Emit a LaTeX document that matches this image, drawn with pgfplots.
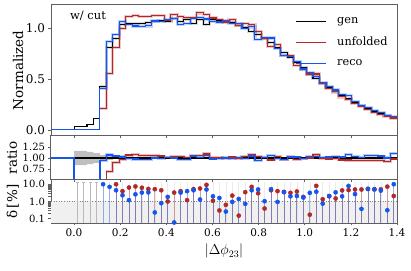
\documentclass[border=0pt]{standalone}
\usepackage{pgfplots}
\pgfplotsset{compat=1.18}
\usepackage{pgfplotstable}
\usepackage{fontspec}
\setmainfont{DejaVu Serif}
\definecolor{myred}{RGB}{178,40,40}
\definecolor{myblue}{RGB}{20,85,235}
\definecolor{axgray}{RGB}{95,95,95}

\pgfplotstableread{
x gen unf reco
-0.100 0 0 0
0.000 0.030 0 0
0.028 0.030 0 0
0.056 0.050 0 0
0.084 0.115 0 0
0.112 0.430 0.211 0.409
0.140 0.810 0.559 0.867
0.168 0.900 0.810 0.941
0.196 1.040 0.998 1.064
0.224 1.050 1.118 1.037
0.252 1.050 1.129 1.023
0.280 1.050 1.116 1.015
0.308 1.060 1.117 1.024
0.336 1.070 1.126 1.072
0.364 1.080 1.129 1.071
0.392 1.070 1.081 1.090
0.420 1.100 1.136 1.101
0.448 1.070 1.113 1.035
0.476 1.090 1.103 1.046
0.504 1.050 1.106 1.097
0.532 1.090 1.152 1.104
0.560 1.040 1.137 1.092
0.588 1.090 1.102 1.068
0.616 1.080 1.083 1.063
0.644 1.070 1.063 1.073
0.672 1.060 1.083 1.050
0.700 1.030 1.028 1.044
0.728 1.010 1.045 1.003
0.756 0.970 1.039 1.014
0.784 0.940 0.968 0.893
0.812 0.900 0.904 0.909
0.840 0.860 0.821 0.905
0.868 0.810 0.842 0.802
0.896 0.760 0.733 0.733
0.924 0.710 0.733 0.724
0.952 0.660 0.635 0.674
0.980 0.610 0.599 0.600
1.008 0.550 0.551 0.568
1.036 0.510 0.551 0.529
1.064 0.460 0.454 0.463
1.092 0.420 0.412 0.429
1.120 0.380 0.374 0.393
1.148 0.340 0.325 0.347
1.176 0.310 0.296 0.335
1.204 0.270 0.257 0.277
1.232 0.240 0.228 0.241
1.260 0.210 0.199 0.221
1.288 0.180 0.171 0.189
1.316 0.160 0.152 0.167
1.344 0.140 0.130 0.140
1.372 0.120 0.117 0.132
1.400 0.120 0.117 0.132
}\histtab

\pgfplotstableread{
x rg ru rb
-0.100 1 1 1
0.000 1 0 0
0.028 1 0 0
0.056 1 0 0
0.084 1 0 0
0.112 1 0.49 0.95
0.140 1 0.69 1.07
0.168 1 0.90 1.045
0.196 1 0.96 1.023
0.224 1 1.065 0.988
0.252 1 1.075 0.974
0.280 1 1.063 0.967
0.308 1 1.054 0.966
0.336 1 1.052 1.002
0.364 1 1.045 0.992
0.392 1 1.010 1.019
0.420 1 1.033 1.001
0.448 1 1.040 0.967
0.476 1 1.012 0.960
0.504 1 1.053 1.045
0.532 1 1.057 1.013
0.560 1 1.093 1.050
0.588 1 1.011 0.980
0.616 1 1.003 0.984
0.644 1 0.994 1.003
0.672 1 1.022 0.991
0.700 1 0.999 1.014
0.728 1 1.035 0.993
0.756 1 1.071 1.045
0.784 1 1.030 0.950
0.812 1 1.004 1.010
0.840 1 0.955 1.052
0.868 1 1.040 0.991
0.896 1 0.964 0.965
0.924 1 1.032 1.020
0.952 1 0.962 1.021
0.980 1 0.982 0.983
1.008 1 1.002 1.032
1.036 1 1.081 1.037
1.064 1 0.986 1.008
1.092 1 0.980 1.021
1.120 1 0.985 1.034
1.148 1 0.956 1.020
1.176 1 0.954 1.080
1.204 1 0.950 1.027
1.232 1 0.950 1.004
1.260 1 0.946 1.054
1.288 1 0.950 1.052
1.316 1 0.949 1.043
1.344 1 0.927 1.003
1.372 1 0.979 1.101
1.400 1 0.979 1.101
}\ratiotab

\pgfplotstableread{
x dr db
0.126 nan 10.1
0.154 nan 7.1
0.182 10.1 4.5
0.210 4.0 2.3
0.238 6.5 1.2
0.266 7.5 2.6
0.294 6.3 3.3
0.322 5.4 3.4
0.350 5.2 0.23
0.378 4.5 0.8
0.406 1.0 1.85
0.434 3.3 0.06
0.462 4.0 3.3
0.490 1.2 4.0
0.518 5.3 4.5
0.546 5.7 1.3
0.574 9.3 5.0
0.602 1.1 2.0
0.630 0.30 1.6
0.658 0.64 0.26
0.686 2.2 0.95
0.714 0.15 1.4
0.742 3.5 0.73
0.770 7.1 4.5
0.798 3.0 5.0
0.826 0.39 1.04
0.854 4.5 5.2
0.882 4.0 0.95
0.910 3.6 3.5
0.938 3.2 2.0
0.966 3.8 2.1
0.994 1.85 1.7
1.022 0.17 3.2
1.050 8.1 3.7
1.078 1.36 0.75
1.106 2.0 2.1
1.134 1.5 3.4
1.162 4.4 2.0
1.190 4.6 8.0
1.218 5.0 2.7
1.246 5.0 0.37
1.274 5.4 5.4
1.302 5.0 5.2
1.330 5.1 4.3
1.358 7.3 0.31
1.386 2.1 10.1
}\deltatab

\pgfplotstableread{
x g
0.014 13
0.042 13
0.070 13
0.098 13
}\graylow

\pgfplotstableread{
x g
0.126 13
0.154 13
0.182 13
0.210 13
0.238 13
0.266 13
0.294 13
0.322 13
0.350 13
0.378 13
0.406 13
0.434 13
0.462 13
0.490 13
0.518 13
0.546 13
0.574 13
0.602 13
0.630 13
0.658 13
0.686 13
0.714 13
0.742 13
0.770 13
0.798 13
0.826 13
0.854 13
0.882 13
0.910 13
0.938 13
0.966 13
0.994 13
1.022 13
1.050 13
1.078 13
1.106 13
1.134 13
1.162 13
1.190 13
1.218 13
1.246 13
1.274 13
1.302 13
1.330 13
1.358 13
1.386 13
}\grayall

\begin{document}
\begin{tikzpicture}
\useasboundingbox (0,0) rectangle (411bp,271bp);
\pgfplotsset{
  every axis/.append style={
    scale only axis, width=346bp, xmin=-0.1, xmax=1.4, anchor=south west,
    axis line style={axgray, line width=1bp},
    tick style={axgray, line width=0.6bp}, major tick length=2.5bp, tick align=outside,
    xtick={0,0.2,...,1.4},
    /pgf/number format/assume math mode=true,
    ytick pos=left, xtick pos=bottom,
  }
}
% ---------- top panel ----------
\begin{axis}[
  at={(51bp,135bp)}, height=131.5bp,
  ymin=-0.06, ymax=1.235, ytick={0,0.5,1},
  xticklabels={},
  yticklabel style={font=\fontsize{12bp}{14bp}\selectfont, /pgf/number format/.cd, fixed, fixed zerofill, precision=1},
  ylabel={Normalized},
  every axis y label/.style={at={(axis description cs:-0.095,0.5)}, rotate=90, anchor=center, font=\fontsize{13.5bp}{16bp}\selectfont},
  legend style={at={(axis description cs:0.705,0.915)}, anchor=north west, draw=none, fill=none,
    font=\fontsize{11.3bp}{13bp}\selectfont, row sep=8bp, inner sep=0pt,
    /tikz/every odd column/.append style={column sep=9bp}},
  legend cell align=left,
  legend image code/.code={\draw[#1] (0bp,0bp) -- (30bp,0bp);},
]
\addplot[const plot, gray, line width=3.2bp, opacity=0.3, forget plot, restrict x to domain=0.1:1.5] table[x=x,y=gen]{\histtab};
\addplot[const plot, myred, line width=3.2bp, opacity=0.25, forget plot, restrict x to domain=0.1:1.5] table[x=x,y=unf]{\histtab};
\addplot[const plot, myblue, line width=3.2bp, opacity=0.25, forget plot, restrict x to domain=0.1:1.5] table[x=x,y=reco]{\histtab};
\addplot[const plot, black, line width=1.1bp] table[x=x,y=gen]{\histtab};
\addlegendentry{gen}
\addplot[const plot, myred, line width=1.1bp] table[x=x,y=unf]{\histtab};
\addlegendentry{unfolded}
\addplot[const plot, myblue, line width=1.1bp] table[x=x,y=reco]{\histtab};
\addlegendentry{reco}
\node[anchor=west, font=\fontsize{11.5bp}{13bp}\selectfont] at (axis description cs:0.045,0.91) {w/ cut};
\end{axis}
% ---------- ratio panel ----------
\begin{axis}[
  at={(51bp,91bp)}, height=44bp,
  ymin=0.5, ymax=1.5, ytick={0.75,1,1.25},
  xticklabels={},
  yticklabel style={font=\fontsize{10bp}{12bp}\selectfont, /pgf/number format/.cd, fixed, fixed zerofill, precision=2},
  ylabel={ratio},
  every axis y label/.style={at={(axis description cs:-0.113,0.5)}, rotate=90, anchor=center, font=\fontsize{13.5bp}{16bp}\selectfont},
]
\addplot[fill=gray!50, draw=none] coordinates {(0,1.16) (0.056,1.16) (0.056,1.14) (0.084,1.14) (0.084,1.11) (0.112,1.11) (0.112,1.07) (0.140,1.07) (0.140,1.04) (0.168,1.04) (0.168,1.02) (0.196,1.02) (0.196,1.015) (1.4,1.015) (1.4,0.985) (0.196,0.985) (0.196,0.98) (0.168,0.98) (0.168,0.96) (0.140,0.96) (0.140,0.93) (0.112,0.93) (0.112,0.89) (0.084,0.89) (0.084,0.86) (0.056,0.86) (0.056,0.84) (0,0.84)} -- cycle;
\addplot[const plot, myred, line width=3bp, opacity=0.3, restrict x to domain=0.13:1.5] table[x=x,y=ru]{\ratiotab};
\addplot[const plot, myblue, line width=3bp, opacity=0.3, restrict x to domain=0.1:1.5] table[x=x,y=rb]{\ratiotab};
\addplot[const plot, black, line width=1.4bp] table[x=x,y=rg]{\ratiotab};
\addplot[const plot, myred, line width=1.3bp] table[x=x,y=ru]{\ratiotab};
\addplot[const plot, myblue, line width=1.3bp] table[x=x,y=rb]{\ratiotab};
\end{axis}
% ---------- delta panel ----------
\begin{axis}[
  at={(51bp,48bp)}, height=43bp,
  ymode=log, ymin=0.056, ymax=17.8, ytick={0.1,1,10}, yticklabels={0.1,1.0,10.0},
  log origin y=infty,
  yticklabel style={font=\fontsize{10bp}{12bp}\selectfont},
  xticklabel style={font=\fontsize{10.5bp}{12bp}\selectfont, /pgf/number format/.cd, fixed, fixed zerofill, precision=1},
  ylabel={δ\,[\%]},
  every axis y label/.style={at={(axis description cs:-0.11,0.5)}, rotate=90, anchor=center, font=\fontsize{13.5bp}{16bp}\selectfont},
  xlabel={$|\Delta\phi_{23}|$},
  every axis x label/.style={at={(axis description cs:0.5,-0.66)}, anchor=center, font=\fontsize{14bp}{16bp}\selectfont},
]
\addplot[fill=gray!12, draw=none] coordinates {(-0.1,0.056) (-0.1,1) (1.4,1) (1.4,0.056)} -- cycle;
\addplot[gray, dotted, line width=0.6bp] coordinates {(-0.1,1) (1.4,1)};
\addplot[ycomb, gray!55, line width=0.8bp, mark=-, mark size=1.5bp] table[x=x,y=g]{\graylow};
\addplot[ycomb, gray!35, line width=0.6bp, opacity=0.45] table[x=x,y=g]{\grayall};
\addplot[ycomb, myred, line width=0.8bp, opacity=0.4] table[x=x,y=dr]{\deltatab};
\addplot[ycomb, myblue, line width=0.8bp, opacity=0.4] table[x=x,y=db]{\deltatab};
\addplot[only marks, mark=*, mark size=2.1bp, myred] table[x=x,y=dr]{\deltatab};
\addplot[only marks, mark=*, mark size=2.1bp, myblue] table[x=x,y=db]{\deltatab};
\end{axis}
\end{tikzpicture}
\end{document}
